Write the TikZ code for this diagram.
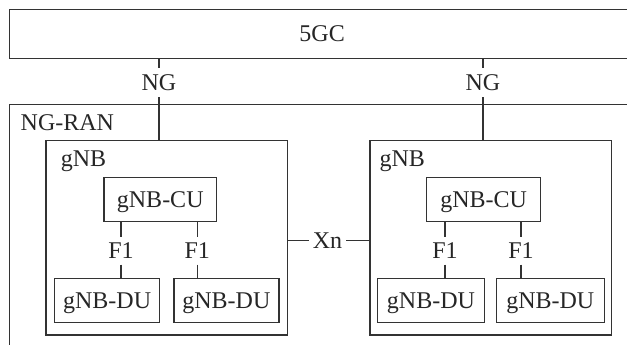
\documentclass[tikz,border=0pt]{standalone}
\usepackage{fontspec}
\setmainfont{Liberation Serif}
\begin{document}
\begin{tikzpicture}[x=1pt,y=-1pt,
  every node/.style={font=\fontsize{24}{28}\selectfont, text=black!85},
  line/.style={draw=black!80, line width=1.2pt},
  box/.style={line, anchor=north west, inner sep=0pt, text depth=0pt},
  iface/.style={inner sep=0pt, text depth=0pt}]
\clip (0,0) rectangle (627,345);
\fill[white] (0,0) rectangle (627,345);
% outer boxes
\node[box, minimum width=625pt, minimum height=48.7pt] (core) at (9,9) {5GC};
\node[box, minimum width=640pt, minimum height=260pt] (ran) at (9,104) {};
\node[anchor=base west, inner sep=0pt] (ranlabel) at (20.5,130) {NG-RAN};
% gNB boxes
\node[box, minimum width=241.4pt, minimum height=194.3pt] (gnb1) at (45.3,140) {};
\node[box, minimum width=241.7pt, minimum height=194.3pt] (gnb2) at (369.3,140) {};
\node[anchor=base west, inner sep=0pt] (gnb1label) at (60.7,166.7) {gNB};
\node[anchor=base west, inner sep=0pt] (gnb2label) at (379.3,166.7) {gNB};
% CU
\node[box, minimum width=112.7pt, minimum height=44pt] (cu1) at (103.3,176.7) {gNB-CU};
\node[box, minimum width=114pt, minimum height=44pt] (cu2) at (426,176.7) {gNB-CU};
% DU
\node[box, minimum width=105pt, minimum height=44.5pt] (du11) at (54,277.5) {gNB-DU};
\node[box, minimum width=105pt, minimum height=44.5pt] (du12) at (173.3,277.5) {gNB-DU};
\node[box, minimum width=107.3pt, minimum height=44.5pt] (du21) at (376.7,277.5) {gNB-DU};
\node[box, minimum width=108pt, minimum height=44.5pt] (du22) at (495.7,277.5) {gNB-DU};
% interface labels
\node[iface, minimum height=29pt] (ng1) at (159,82.8) {NG};
\node[iface, minimum height=29pt] (ng2) at (483,82.8) {NG};
\node[iface, minimum height=27.6pt] (f11) at (121,250.5) {F1};
\node[iface, minimum height=27.6pt] (f12) at (197.3,250.5) {F1};
\node[iface, minimum height=27.6pt] (f21) at (445,250.5) {F1};
\node[iface, minimum height=27.6pt] (f22) at (521,250.5) {F1};
\node[iface, minimum width=37pt] (xn) at (327.5,240.5) {Xn};
% connectors
\draw[line] (core.south -| ng1) -- (ng1.north);
\draw[line] (ng1.south) -- (gnb1.north -| ng1);
\draw[line] (core.south -| ng2) -- (ng2.north);
\draw[line] (ng2.south) -- (gnb2.north -| ng2);
\draw[line] (cu1.south -| f11) -- (f11.north);
\draw[line] (f11.south) -- (du11.north -| f11);
\draw[line] (cu1.south -| f12) -- (f12.north);
\draw[line] (f12.south) -- (du12.north -| f12);
\draw[line] (cu2.south -| f21) -- (f21.north);
\draw[line] (f21.south) -- (du21.north -| f21);
\draw[line] (cu2.south -| f22) -- (f22.north);
\draw[line] (f22.south) -- (du22.north -| f22);
\draw[line] (gnb1.east |- xn) -- (xn.west);
\draw[line] (xn.east) -- (gnb2.west |- xn);
\end{tikzpicture}
\end{document}
